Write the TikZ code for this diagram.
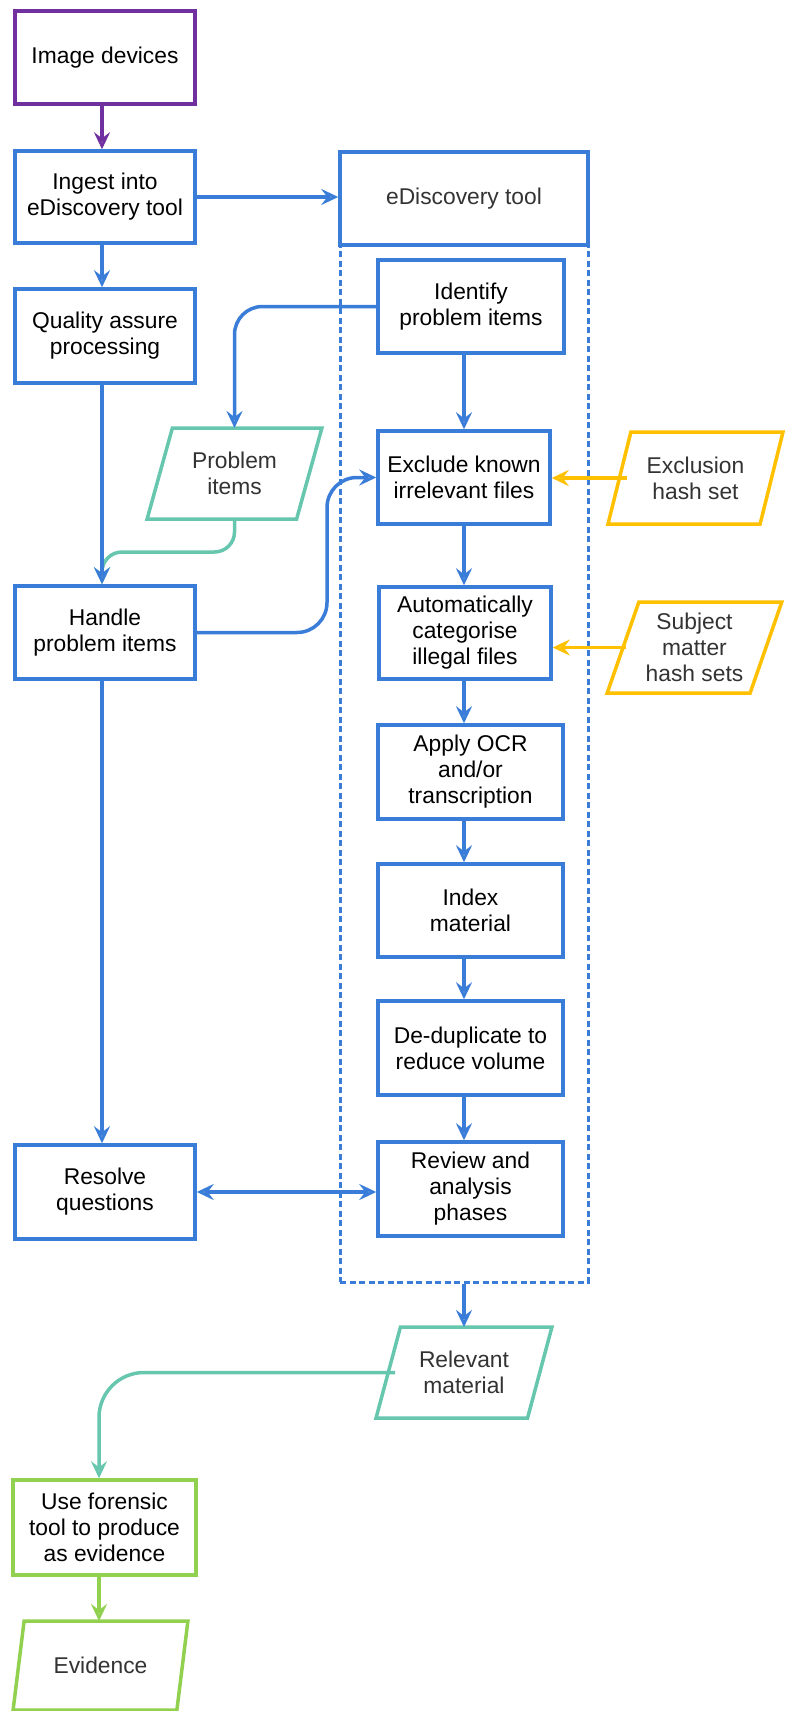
\documentclass[tikz,border=0pt]{standalone}
\usepackage{fontspec}
\setmainfont{Liberation Sans}
\usetikzlibrary{arrows.meta,shapes.geometric,calc}
\definecolor{flowblue}{HTML}{3A7DD8}
\definecolor{flowpurple}{HTML}{7030A0}
\definecolor{flowteal}{HTML}{66C6AE}
\definecolor{flowyellow}{HTML}{FFC000}
\definecolor{flowgreen}{HTML}{92D050}
\definecolor{textgray}{HTML}{333333}
\begin{document}
\begin{tikzpicture}[x=1pt,y=-1pt,
  every node/.style={font=\fontsize{22.8}{26}\selectfont, align=center, inner sep=0pt},
  procbox/.style={draw=flowblue, line width=3.5pt, text=black, fill=white},
  databox/.style={trapezium, trapezium left angle=68, trapezium right angle=112,
    trapezium stretches=true, minimum width=175pt, minimum height=91pt,
    line width=3.5pt, text=textgray, fill=white},
  flowline/.style={line width=3.5pt, -{Stealth[open,length=17pt,width=16pt,inset=6pt]}},
]
\useasboundingbox (0,0) rectangle (789,1711);

% column guides for the vertical connectors
\coordinate (colL) at (102,0);
\coordinate (colF) at (99,0);
\coordinate (colR) at (464,0);

% eDiscovery tool container
\node[draw=flowblue, line width=3pt, dash pattern=on 6pt off 3.5pt,
      minimum width=248pt, minimum height=1037pt] (container) at (464,763.5) {};
\node[procbox, text=textgray, minimum width=248pt, minimum height=93pt] (tool) at (464,198.5) {eDiscovery tool};

% left column
\node[procbox, draw=flowpurple, minimum width=180pt, minimum height=93pt] (img) at (105,57.5) {Image devices};
\node[procbox, minimum width=180pt, minimum height=92pt] (ingest) at (105,197) {Ingest into\\eDiscovery tool};
\node[procbox, minimum width=180pt, minimum height=94pt] (qa) at (105,336) {Quality assure\\processing};
\node[procbox, minimum width=180pt, minimum height=93pt] (handle) at (105,632.5) {Handle\\problem items};
\node[procbox, minimum width=180pt, minimum height=94pt] (resolve) at (105,1192) {Resolve\\questions};
\node[procbox, draw=flowgreen, minimum width=183pt, minimum height=95pt] (forensic) at (104.5,1527.5) {Use forensic\\tool to produce\\as evidence};
\node[databox, draw=flowgreen, minimum height=89pt] (evid) at (100.5,1665.5) {Evidence};

% tool steps
\node[procbox, minimum width=186pt, minimum height=93pt] (ident) at (471,306.5) {Identify\\problem items};
\node[procbox, minimum width=172pt, minimum height=93pt] (excl) at (464,477.5) {Exclude known\\irrelevant files};
\node[procbox, minimum width=172pt, minimum height=92pt] (auto) at (465,633) {Automatically\\categorise\\illegal files};
\node[procbox, minimum width=185pt, minimum height=94pt] (ocr) at (470.5,772) {Apply OCR\\and/or\\transcription};
\node[procbox, minimum width=185pt, minimum height=93pt] (index) at (470.5,910.5) {Index\\material};
\node[procbox, minimum width=185pt, minimum height=94pt] (dedup) at (470.5,1048) {De-duplicate to\\reduce volume};
\node[procbox, minimum width=185pt, minimum height=94pt] (review) at (470.5,1189) {Review and\\analysis\\phases};

% data items
\node[databox, draw=flowteal] (prob) at (234.5,473.5) {Problem\\items};
\node[databox, draw=flowyellow, minimum height=92pt] (exhash) at (695.5,478) {Exclusion\\hash set};
\node[databox, draw=flowyellow] (subhash) at (694.5,647.5) {Subject\\matter\\hash sets};
\node[databox, draw=flowteal, minimum width=176pt] (relev) at (464,1372.5) {Relevant\\material};

% bend points of the routed connectors
\coordinate (bendA) at (102,552);
\coordinate (bendB) at (327,560);

% connectors
\draw[flowline, flowpurple] (img.south -| colL) -- (ingest.north -| colL);
\draw[flowline, flowblue] (ingest.east) -- (ingest.east -| tool.west);
\draw[flowline, flowblue] (ingest.south -| colL) -- (qa.north -| colL);
\draw[flowline, flowteal, rounded corners=20pt] ([yshift=-45.5pt]prob.center) |- (bendA) -- (handle.north -| colL);
\draw[flowline, flowblue] (qa.south -| colL) -- (handle.north -| colL);
\draw[flowline, flowblue] (handle.south -| colL) -- (resolve.north -| colL);
\draw[flowline, flowblue, rounded corners=28pt] (ident.west) -| ([yshift=45.5pt]prob.center);
\draw[flowline, flowblue, rounded corners=30pt] (handle.east) -| (bendB) |- (excl.west);

\draw[flowline, flowblue] (ident.south -| colR) -- (excl.north -| colR);
\draw[flowline, flowblue] (excl.south -| colR) -- (auto.north -| colR);
\draw[flowline, flowblue] (auto.south -| colR) -- (ocr.north -| colR);
\draw[flowline, flowblue] (ocr.south -| colR) -- (index.north -| colR);
\draw[flowline, flowblue] (index.south -| colR) -- (dedup.north -| colR);
\draw[flowline, flowblue] (dedup.south -| colR) -- (review.north -| colR);

\draw[flowline, flowyellow] ([xshift=-69pt]exhash.center) -- (exhash.center -| excl.east);
\draw[flowline, flowyellow] ([xshift=-69pt]subhash.center) -- (subhash.center -| auto.east);

\draw[line width=3.5pt, flowblue, {Stealth[open,length=17pt,width=16pt,inset=6pt]}-{Stealth[open,length=17pt,width=16pt,inset=6pt]}]
  (resolve.east) -- (resolve.east -| review.west);

\draw[flowline, flowblue] (container.south -| colR) -- ([yshift=45.5pt]relev.center);
\draw[flowline, flowteal, rounded corners=45pt] ([xshift=-69pt]relev.center) -| (forensic.north -| colF);
\draw[flowline, flowgreen] (forensic.south -| colF) -- ([yshift=44.5pt]evid.center -| colF);
\end{tikzpicture}
\end{document}
